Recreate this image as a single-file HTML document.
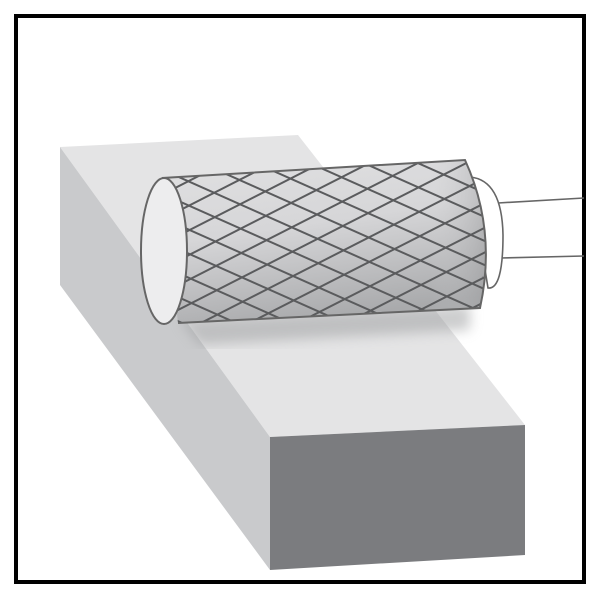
<!DOCTYPE html>
<html><head><style>body{margin:0;background:#fff}svg{display:block}</style></head><body>
<svg width="600" height="600" viewBox="0 0 600 600" xmlns="http://www.w3.org/2000/svg">
<defs>
<linearGradient id="body" x1="0" y1="0" x2="0.3" y2="1">
<stop offset="0" stop-color="#e2e2e3"/><stop offset="0.5" stop-color="#d6d6d8"/><stop offset="1" stop-color="#a9aaac"/>
</linearGradient>
<linearGradient id="endg" x1="0" y1="0" x2="1" y2="0">
<stop offset="0" stop-color="#d0d0d2" stop-opacity="0"/><stop offset="1" stop-color="#8e8f91" stop-opacity="0.6"/>
</linearGradient>
<pattern id="h1" width="40" height="22" patternUnits="userSpaceOnUse" patternTransform="rotate(-27) translate(0,4)">
<line x1="0" y1="1" x2="40" y2="1" stroke="#5a5b5d" stroke-width="2"/>
</pattern>
<pattern id="h2" width="40" height="22" patternUnits="userSpaceOnUse" patternTransform="rotate(24)">
<line x1="0" y1="1" x2="40" y2="1" stroke="#5a5b5d" stroke-width="2"/>
</pattern>
<clipPath id="cyl"><path d="M162,178 L465,160 Q497,230 480,308 L178,323 Z"/></clipPath>
<filter id="blur"><feGaussianBlur stdDeviation="6"/></filter>
</defs>
<rect x="16" y="16" width="568" height="566" fill="#fff" stroke="#000" stroke-width="4"/>
<polygon points="60,147 298,135 525,425 270,437" fill="#e4e4e5"/>
<polygon points="60,147 270,437 270,570 60,285" fill="#c9cacc"/>
<polygon points="270,437 525,425 525,555 270,570" fill="#7b7c7f"/>
<polygon points="180,320 470,305 470,330 200,345" fill="#9a9b9d" opacity="0.5" filter="url(#blur)"/>
<line x1="498" y1="203" x2="584" y2="198" stroke="#666" stroke-width="1.6"/>
<line x1="500" y1="258" x2="584" y2="256" stroke="#666" stroke-width="1.6"/>
<path d="M470,177 Q502,180 503,235 Q503,290 488,288 Z" fill="#fff" stroke="#666" stroke-width="1.6"/>
<g clip-path="url(#cyl)">
<rect x="140" y="150" width="370" height="180" fill="url(#body)"/>
<rect x="430" y="150" width="70" height="180" fill="url(#endg)"/>
<rect x="140" y="150" width="370" height="180" fill="url(#h1)"/>
<rect x="140" y="150" width="370" height="180" fill="url(#h2)"/>
</g>
<path d="M162,178 L465,160 Q497,230 480,308 L178,323" fill="none" stroke="#666" stroke-width="2"/>
<ellipse cx="164" cy="251" rx="23" ry="73" fill="#ededee" stroke="#666" stroke-width="2"/>
</svg>
</body></html>
